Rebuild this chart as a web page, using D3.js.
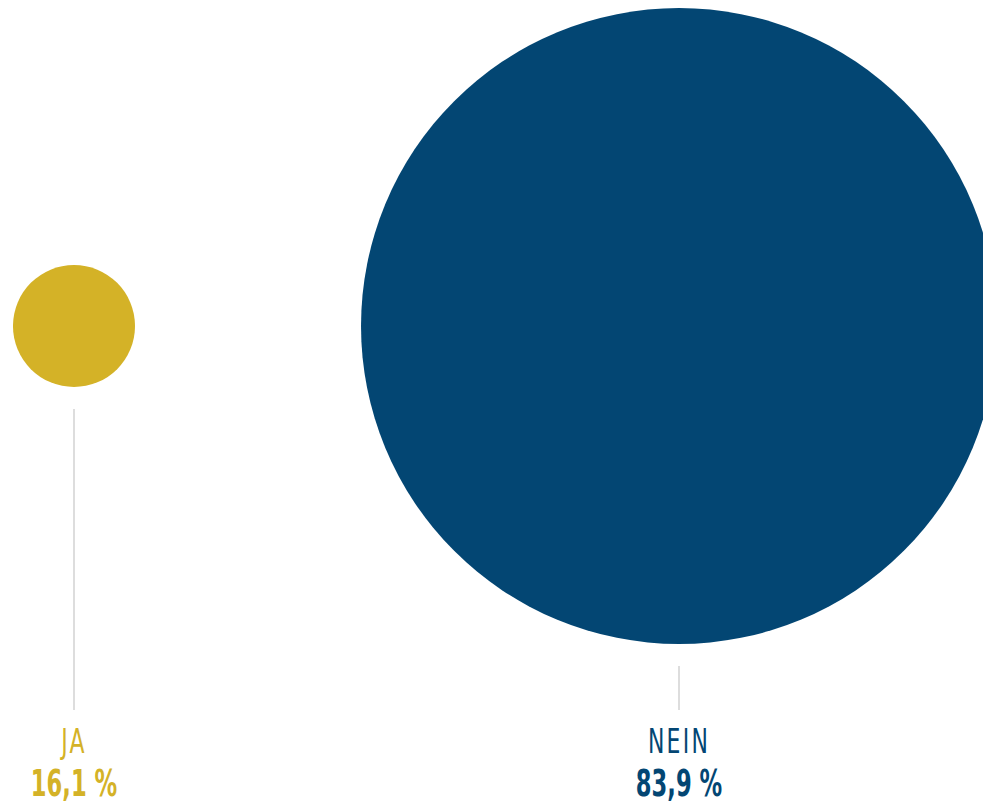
<!DOCTYPE html>
<html>
<head>
<meta charset="utf-8">
<script src="https://cdn.jsdelivr.net/npm/d3@7"></script>
<style>
  html, body { margin: 0; padding: 0; background: #fff; overflow: hidden; }
  svg { display: block; }
  text { font-family: "DejaVu Sans Condensed", "DejaVu Sans", sans-serif; }
</style>
</head>
<body>
<svg id="chart" width="983" height="803"></svg>
<script>
// Answer categories and their shares (percent)
const categories = ["JA", "NEIN"];
const values = [16.1, 83.9];
const valueLabels = ["16,1 %", "83,9 %"];
const colors = ["#D4B227", "#034673"];

const svg = d3.select("#chart");

// Circle radius grows linearly with the share
const r = d3.scaleLinear().domain([0, 100]).range([0, 379]);
const x = d3.scalePoint().domain(categories).range([74, 679]);
const cy = 326;
const leaderEnd = 710;

const g = svg.selectAll("g.item")
  .data(categories.map((c, i) => ({ cat: c, value: values[i], label: valueLabels[i], color: colors[i] })))
  .join("g")
  .attr("class", "item")
  .attr("transform", d => `translate(${x(d.cat)},0)`);

g.append("circle")
  .attr("cx", 0)
  .attr("cy", cy)
  .attr("r", d => r(d.value))
  .attr("fill", d => d.color);

g.append("line")
  .attr("x1", 0).attr("x2", 0)
  .attr("y1", d => cy + r(d.value) + 22)
  .attr("y2", leaderEnd)
  .attr("stroke", "#c6c6c6")
  .attr("stroke-width", 1.2);

// Narrowed type, similar to a condensed DIN face
g.append("text")
  .attr("transform", "translate(0,753) scale(0.74,1)")
  .attr("text-anchor", "middle")
  .attr("fill", d => d.color)
  .attr("font-size", 33)
  .attr("letter-spacing", 3)
  .text(d => d.cat);

g.append("text")
  .attr("transform", "translate(0,796) scale(0.68,1)")
  .attr("text-anchor", "middle")
  .attr("fill", d => d.color)
  .attr("font-size", 37)
  .attr("font-weight", "bold")
  .text(d => d.label);
</script>
</body>
</html>
